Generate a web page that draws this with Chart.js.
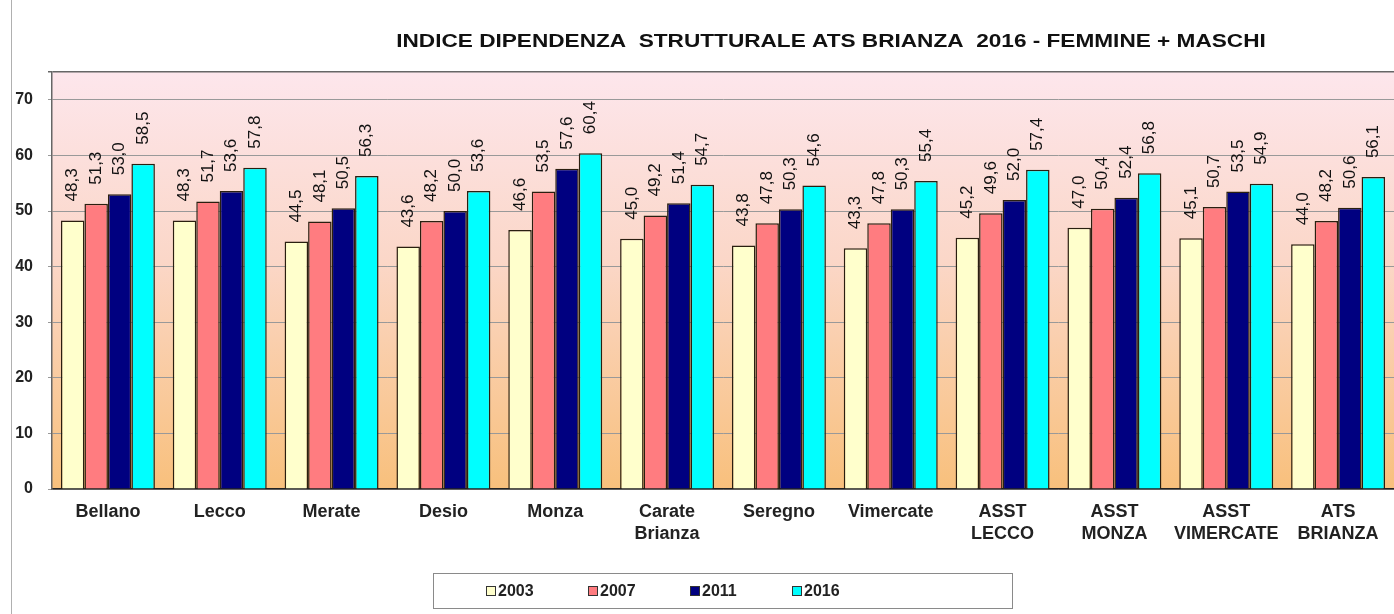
<!DOCTYPE html>
<html>
<head>
<meta charset="utf-8">
<title>Indice dipendenza strutturale ATS Brianza</title>
<script src="https://cdn.jsdelivr.net/npm/chart.js@4.4.0/dist/chart.umd.min.js"></script>
<style>
  body { margin: 0; background: #fff; font-family: Arial, "Liberation Sans", sans-serif; }
  #wrap { position: relative; width: 1394px; height: 614px; overflow: hidden; }
  #legend {
    position: absolute; left: 433px; top: 573px; width: 580px; height: 36px;
    border: 1px solid #8a8a8a; display: flex; align-items: center; padding-left: 52px;
    box-sizing: border-box;
  }
  .item { width: 102px; display: flex; align-items: center; font-weight: bold; font-size: 16px; color: #222; }
  .item span.sw { width: 8px; height: 8px; border: 1px solid #333; margin-right: 2px; display: inline-block; }
</style>
</head>
<body>
<div id="wrap">
  <canvas id="chart" width="1394" height="614"></canvas>
  <div id="legend"></div>
</div>
<script>
const categories = ['Bellano', 'Lecco', 'Merate', 'Desio', 'Monza', ['Carate', 'Brianza'], 'Seregno', 'Vimercate',
  ['ASST', 'LECCO'], ['ASST', 'MONZA'], ['ASST', 'VIMERCATE'], ['ATS', 'BRIANZA']];
const years = ['2003', '2007', '2011', '2016'];
const values2003 = [48.3, 48.3, 44.5, 43.6, 46.6, 45.0, 43.8, 43.3, 45.2, 47.0, 45.1, 44.0];
const values2007 = [51.3, 51.7, 48.1, 48.2, 53.5, 49.2, 47.8, 47.8, 49.6, 50.4, 50.7, 48.2];
const values2011 = [53.0, 53.6, 50.5, 50.0, 57.6, 51.4, 50.3, 50.3, 52.0, 52.4, 53.5, 50.6];
const values2016 = [58.5, 57.8, 56.3, 53.6, 60.4, 54.7, 54.6, 55.4, 57.4, 56.8, 54.9, 56.1];
const colors = ['#ffffcc', '#ff7c80', '#000080', '#00ffff'];
const titleText = 'INDICE DIPENDENZA  STRUTTURALE ATS BRIANZA  2016 - FEMMINE + MASCHI';

Chart.defaults.font.family = 'Arial, "Liberation Sans", sans-serif';
Chart.defaults.color = '#222';

// plot background: pink at top fading to orange at the bottom
const plotBackground = {
  id: 'plotBackground',
  beforeDraw(chart) {
    const { ctx, chartArea: a } = chart;
    const g = ctx.createLinearGradient(0, a.top, 0, a.bottom);
    g.addColorStop(0, '#fde6ec');
    g.addColorStop(0.45, '#fbd7c8');
    g.addColorStop(1, '#f8c07c');
    ctx.save();
    ctx.fillStyle = g;
    ctx.fillRect(a.left, a.top, a.right - a.left, a.bottom - a.top);
    ctx.strokeStyle = '#b0b0b0';
    ctx.beginPath();
    ctx.moveTo(11.5, 0);
    ctx.lineTo(11.5, chart.height);
    ctx.stroke();
    ctx.restore();
  },
  afterDraw(chart) {
    const { ctx, chartArea: a } = chart;
    ctx.save();
    // the original title is a bit stretched sideways
    ctx.translate((a.left + a.right) / 2 + 108, 42);
    ctx.scale(1.19, 1);
    ctx.font = 'bold 19px Arial, "Liberation Sans", sans-serif';
    ctx.fillStyle = '#111';
    ctx.textAlign = 'center';
    ctx.textBaseline = 'middle';
    ctx.fillText(titleText, 0, 0);
    ctx.restore();
  }
};

// rotated value labels above each bar
const barLabels = {
  id: 'barLabels',
  afterDatasetsDraw(chart) {
    const { ctx } = chart;
    ctx.save();
    ctx.font = '17px Arial, "Liberation Sans", sans-serif';
    ctx.fillStyle = '#111';
    ctx.textAlign = 'left';
    ctx.textBaseline = 'middle';
    chart.data.datasets.forEach((ds, i) => {
      chart.getDatasetMeta(i).data.forEach((bar, j) => {
        ctx.save();
        ctx.translate(bar.x, bar.y - 19);
        ctx.rotate(-Math.PI / 2);
        ctx.fillText(ds.data[j].toFixed(1).replace('.', ','), 0, 0);
        ctx.restore();
      });
    });
    ctx.restore();
  }
};

const seriesValues = [values2003, values2007, values2011, values2016];

const chart = new Chart(document.getElementById('chart'), {
  type: 'bar',
  data: {
    labels: categories,
    datasets: years.map((y, i) => ({
      label: y,
      data: seriesValues[i],
      backgroundColor: colors[i],
      borderColor: '#2a1f10',
      borderWidth: 1.5,
      categoryPercentage: 0.84,
      barPercentage: 1
    }))
  },
  options: {
    responsive: false,
    animation: false,
    layout: { padding: { left: 10, top: 72, right: 0, bottom: 65 } },
    plugins: {
      legend: { display: false },
      tooltip: { enabled: false }
    },
    scales: {
      x: {
        grid: { display: false },
        border: { color: '#222', width: 1.5 },
        ticks: {
          padding: 5,
          font: { size: 18, weight: 'bold', lineHeight: 1.17 },
          color: '#222'
        },
        afterFit: (s) => { s.height = 60; }
      },
      y: {
        min: 0,
        max: 75,
        grid: {
          color: (c) => c.tick && c.tick.value === 75 ? '#666' : '#999',
          lineWidth: (c) => c.tick && c.tick.value === 75 ? 1.5 : 1,
          tickLength: 4
        },
        border: { color: '#666', width: 1.5 },
        ticks: {
          stepSize: 10,
          padding: 15,
          font: { size: 16, weight: 'bold' },
          color: '#222',
          callback: (v) => v % 10 === 0 ? v : ''
        },
        afterFit: (s) => { s.width = 42; }
      }
    }
  },
  plugins: [plotBackground, barLabels]
});

// html legend built from the datasets
document.getElementById('legend').innerHTML = chart.data.datasets.map(ds =>
  `<div class="item"><span class="sw" style="background:${ds.backgroundColor}"></span>${ds.label}</div>`
).join('');
</script>
</body>
</html>
